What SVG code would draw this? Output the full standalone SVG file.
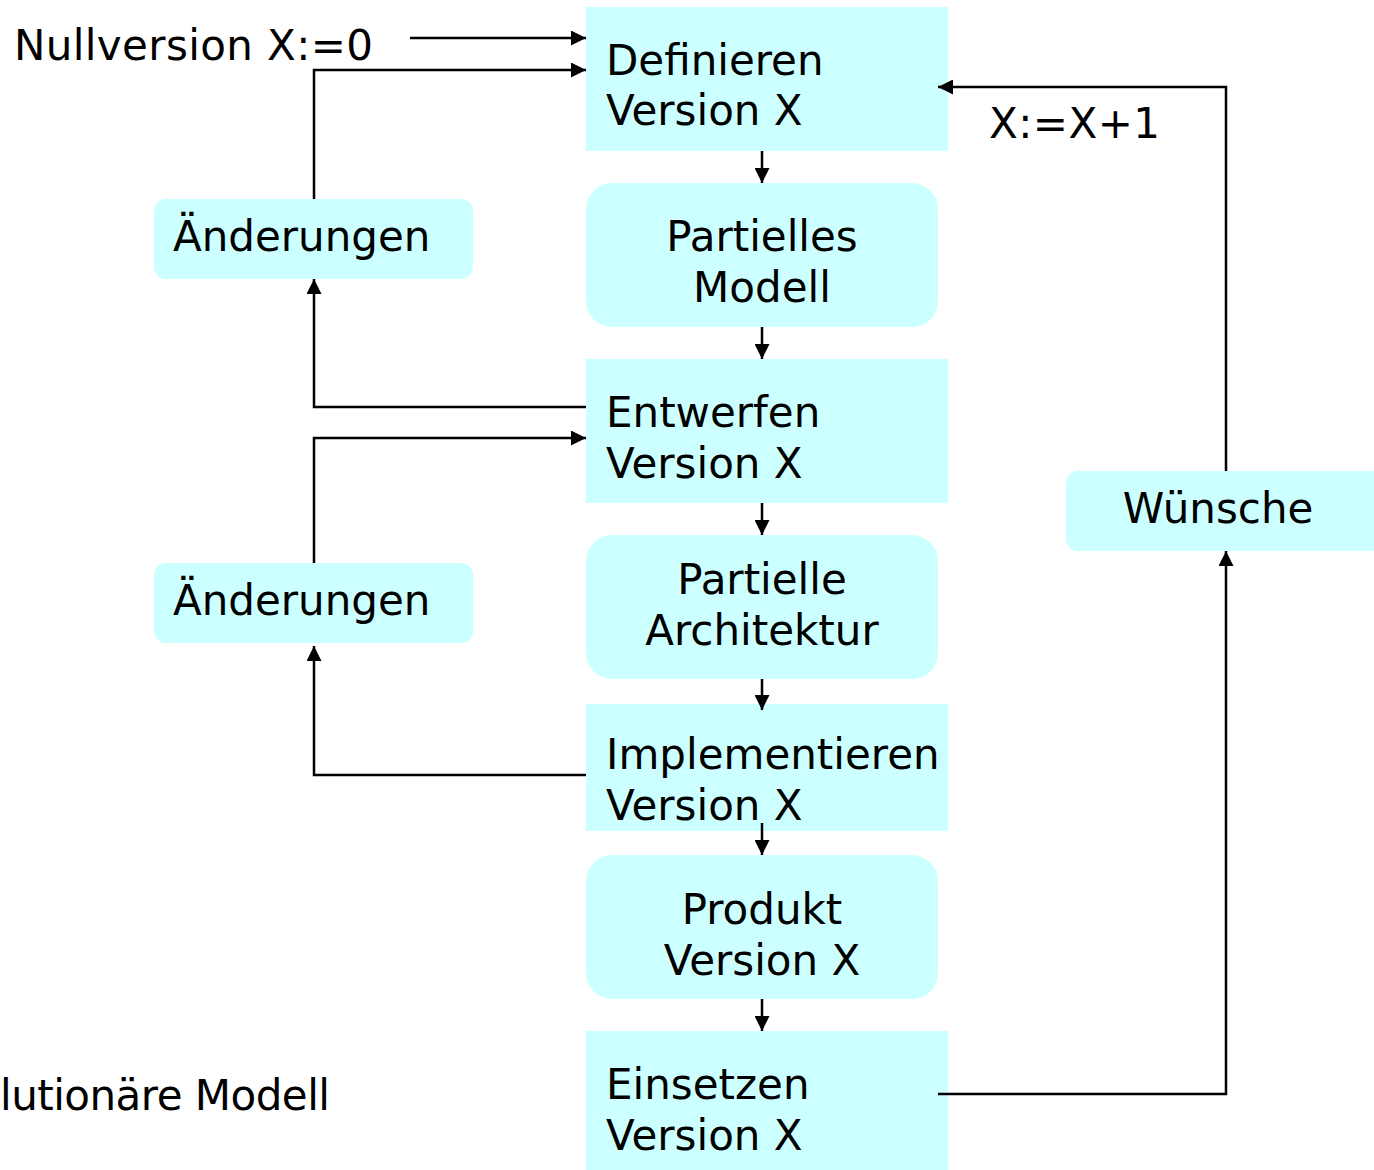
<svg xmlns="http://www.w3.org/2000/svg" width="1374" height="1170" viewBox="0 0 1374 1170">
  <style>
    .box { fill: #CCFFFF; }
    .lbl { font-family: "DejaVu Sans", Verdana, sans-serif; font-size: 42px; fill: #000; }
    .mid { text-anchor: middle; }
    .edge { fill: none; stroke: #000; stroke-width: 2.5; }
  </style>
  <defs>
    <marker id="head" markerUnits="userSpaceOnUse" markerWidth="15" markerHeight="15" refX="15" refY="7.5" orient="auto">
      <path d="M0,0 L15,7.5 L0,15 z" fill="#000"/>
    </marker>
  </defs>
  <rect width="1374" height="1170" fill="#fff"/>

  <!-- free labels -->
  <text class="lbl" x="14" y="60" textLength="359" lengthAdjust="spacing">Nullversion X:=0</text>
  <text class="lbl" x="989" y="138" textLength="171" lengthAdjust="spacing">X:=X+1</text>
  <text class="lbl" x="0" y="1110" textLength="330" lengthAdjust="spacing">lutionäre Modell</text>

  <!-- main column -->
  <g id="definieren">
    <rect class="box" x="586" y="7" width="362" height="144"/>
    <text class="lbl" x="606" y="75">Definieren</text>
    <text class="lbl" x="606" y="125">Version X</text>
  </g>
  <g id="partielles-modell">
    <rect class="box" x="586" y="183" width="352" height="144" rx="26"/>
    <text class="lbl mid" x="762" y="251">Partielles</text>
    <text class="lbl mid" x="762" y="302">Modell</text>
  </g>
  <g id="entwerfen">
    <rect class="box" x="586" y="359" width="362" height="144"/>
    <text class="lbl" x="606" y="427">Entwerfen</text>
    <text class="lbl" x="606" y="478">Version X</text>
  </g>
  <g id="partielle-architektur">
    <rect class="box" x="586" y="535" width="352" height="144" rx="26"/>
    <text class="lbl mid" x="762" y="594">Partielle</text>
    <text class="lbl mid" x="762" y="645">Architektur</text>
  </g>
  <g id="implementieren">
    <rect class="box" x="586" y="704" width="362" height="127"/>
    <text class="lbl" x="606" y="769">Implementieren</text>
    <text class="lbl" x="606" y="820">Version X</text>
  </g>
  <g id="produkt">
    <rect class="box" x="586" y="855" width="352" height="144" rx="26"/>
    <text class="lbl mid" x="762" y="924">Produkt</text>
    <text class="lbl mid" x="762" y="975">Version X</text>
  </g>
  <g id="einsetzen">
    <rect class="box" x="586" y="1031" width="362" height="139"/>
    <text class="lbl" x="606" y="1099">Einsetzen</text>
    <text class="lbl" x="606" y="1150">Version X</text>
  </g>

  <!-- side nodes -->
  <g id="aenderungen-1">
    <rect class="box" x="154" y="199" width="319" height="80" rx="12"/>
    <text class="lbl" x="173" y="251">Änderungen</text>
  </g>
  <g id="aenderungen-2">
    <rect class="box" x="154" y="563" width="319" height="80" rx="12"/>
    <text class="lbl" x="173" y="615">Änderungen</text>
  </g>
  <g id="wuensche">
    <rect class="box" x="1066" y="471" width="320" height="80" rx="12"/>
    <text class="lbl mid" x="1218" y="523">Wünsche</text>
  </g>

  <!-- connectors -->
  <g id="connectors">
    <path class="edge" marker-end="url(#head)" d="M410,38 H586"/>
    <path class="edge" marker-end="url(#head)" d="M762,151 V183"/>
    <path class="edge" marker-end="url(#head)" d="M762,327 V359"/>
    <path class="edge" marker-end="url(#head)" d="M762,503 V535"/>
    <path class="edge" marker-end="url(#head)" d="M762,679 V710"/>
    <path class="edge" marker-end="url(#head)" d="M762,823 V855"/>
    <path class="edge" marker-end="url(#head)" d="M762,999 V1031"/>
    <path class="edge" marker-end="url(#head)" d="M314,199 V70 H586"/>
    <path class="edge" marker-end="url(#head)" d="M586,407 H314 V279"/>
    <path class="edge" marker-end="url(#head)" d="M314,563 V438 H586"/>
    <path class="edge" marker-end="url(#head)" d="M586,775 H314 V646"/>
    <path class="edge" marker-end="url(#head)" d="M938,1094 H1226 V551"/>
    <path class="edge" marker-end="url(#head)" d="M1226,471 V87 H938"/>
  </g>
</svg>
